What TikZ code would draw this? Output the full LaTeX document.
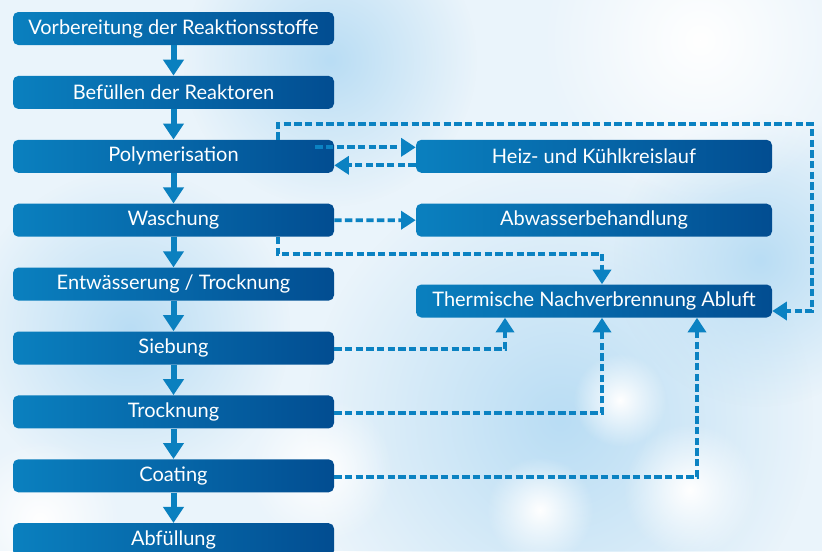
\documentclass[tikz,border=0pt]{standalone}
\usepackage{fontspec}
\setmainfont{Lato}
\usetikzlibrary{arrows.meta,calc,fadings}
\definecolor{boxlight}{HTML}{0A80BF}
\definecolor{boxdark}{HTML}{024D91}
\definecolor{linkblue}{HTML}{0B82C2}
\definecolor{bgbase}{HTML}{EAF4FB}
\definecolor{skyblue}{HTML}{B9DDF4}
\tikzfading[name=glow, inner color=transparent!0, outer color=transparent!100]
\tikzset{
  stepbox/.style={rounded corners=4pt, minimum height=24.75pt, minimum width=240.75pt,
    inner sep=0pt, left color=boxlight, right color=boxdark, text=white,
    font=\fontsize{15}{17}\selectfont},
  sidebox/.style={stepbox, minimum width=267pt},
  flowarrow/.style={boxlight, line width=4.5pt, -{Triangle[width=15pt,length=12pt]}},
  linkarrow/.style={linkblue, line width=2.8pt, dash pattern=on 5.5pt off 2.5pt,
    -{Triangle[width=13.5pt,length=11pt]}}
}
\begin{document}
\begin{tikzpicture}[x=0.75pt,y=-0.75pt]
		\useasboundingbox (0,0) rectangle (822,551);
		\clip (0,0) rectangle (822,551);
		% background
		\fill[bgbase] (0,0) rectangle (822,551);
		\fill[skyblue, path fading=glow] (560,420) circle (190pt);
		\fill[skyblue, path fading=glow] (130,330) circle (120pt);
		\fill[skyblue, path fading=glow] (760,260) circle (110pt);
		\fill[skyblue, path fading=glow] (330,60) circle (110pt);
		\fill[white, path fading=glow] (700,40) circle (120pt);
		\fill[white, path fading=glow] (320,470) circle (55pt);
		\fill[white, path fading=glow] (690,490) circle (50pt);
		\fill[white, path fading=glow] (540,510) circle (40pt);
		\fill[white, path fading=glow] (620,400) circle (35pt);
		\fill[white, path fading=glow] (40,520) circle (60pt);
		% process steps
		\foreach \label [count=\i] in {Vorbereitung der Reaktionsstoffe, Befüllen der Reaktoren,
			Polymerisation, Waschung, Entwässerung / Trocknung, Siebung, Trocknung, Coating, Abfüllung}
		{
			\node[stepbox] (s\i) at (173.5,{28.5+63.9*(\i-1)}) {\label};
		}
		\foreach \i [evaluate=\i as \j using int(\i+1)] in {1,...,8}
		{
			\draw[flowarrow] (s\i) -- (s\j);
		}
		% side processes
		\node[sidebox] (heiz) at (594,156.3) {Heiz- und Kühlkreislauf};
		\node[sidebox] (abw) at (594,220.2) {Abwasserbehandlung};
		\node[sidebox] (tnv) at (594,301) {Thermische Nachverbrennung Abluft};
		% dashed links
		\coordinate (loop) at (812,124);
		\draw[linkarrow] ($(s3.east)+(-19,-9)$) -- ($(heiz.west)+(0,-9)$);
		\draw[linkarrow] ($(heiz.west)+(0,9)$) -- ($(s3.east)+(0,9)$);
		\draw[linkarrow] ($(s3.north west)+(265,0)$) |- (loop) |- ($(tnv.east)+(0,10)$);
		\draw[linkarrow] (s4.east) -- (abw.west);
		\draw[linkarrow] ($(s4.south west)+(265,0)$) -- ++(0,17) -| ($(tnv.north)+(8,0)$);
		\draw[linkarrow] ($(s6.east)+(0,1)$) -| ($(tnv.south)+(-89,0)$);
		\draw[linkarrow] ($(s7.east)+(0,1)$) -| ($(tnv.south)+(8,0)$);
		\draw[linkarrow] ($(s8.east)+(0,1)$) -| ($(tnv.south)+(103,0)$);
	\end{tikzpicture}
\end{document}
